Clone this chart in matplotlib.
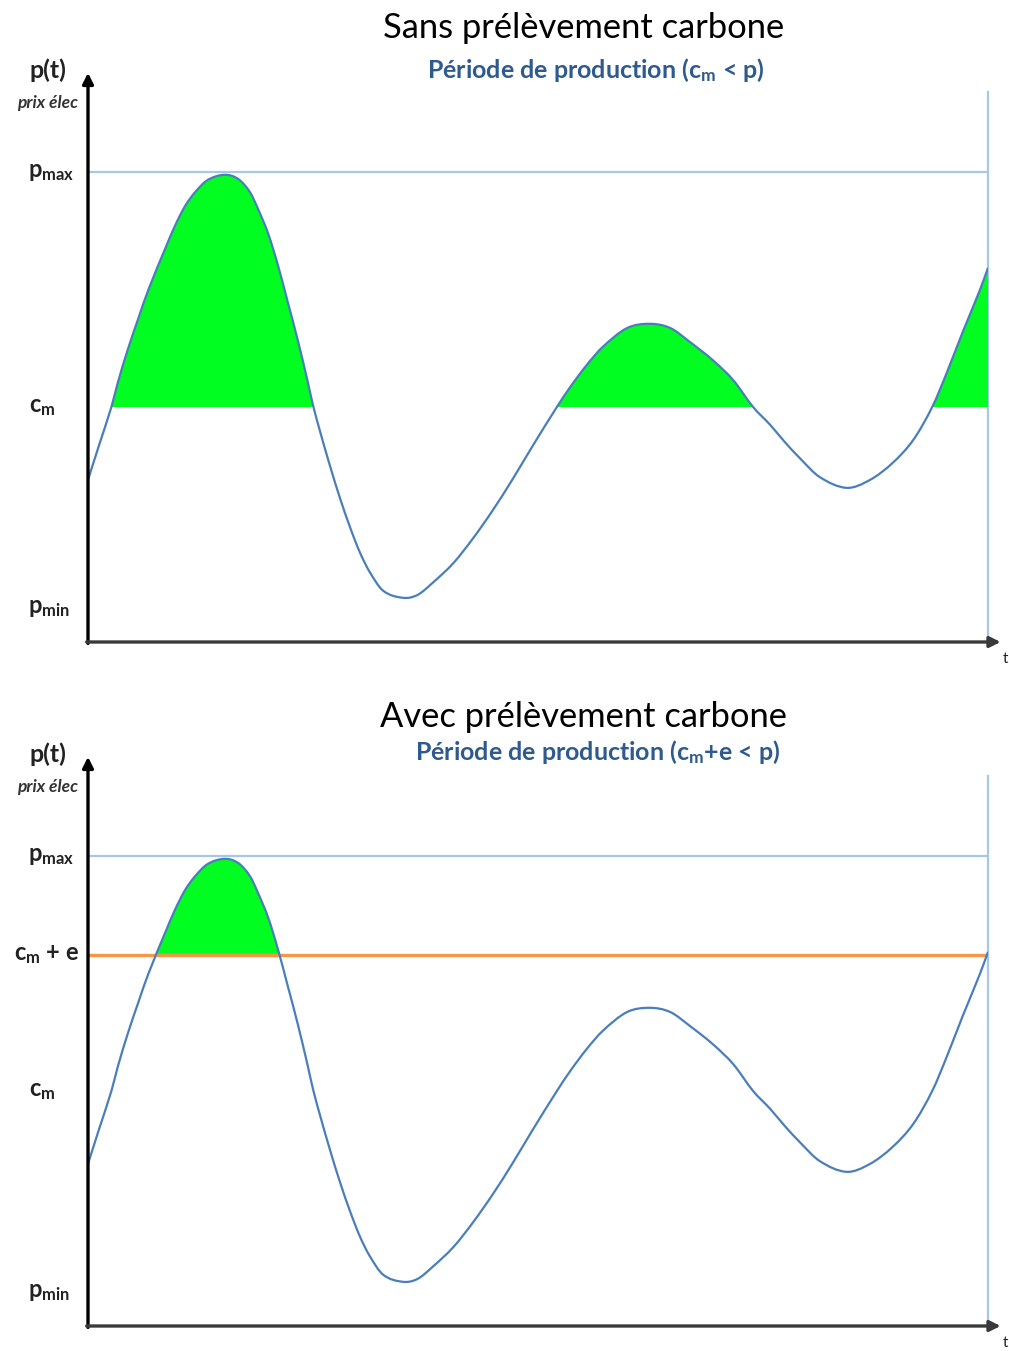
import matplotlib
matplotlib.use("Agg")
import matplotlib.pyplot as plt
from matplotlib.path import Path
from matplotlib.patches import PathPatch, Rectangle
import numpy as np

plt.rcParams['font.family'] = ['Lato', 'DejaVu Sans']
plt.rcParams['mathtext.fontset'] = 'custom'
plt.rcParams['mathtext.rm'] = 'Lato'
plt.rcParams['mathtext.it'] = 'Lato:italic'
plt.rcParams['mathtext.bf'] = 'Lato:bold'
plt.rcParams['mathtext.default'] = 'regular'

# ---- data ----
t = [0.0, 1.3, 2.6, 3.3, 4.4, 5.6, 6.7, 8.6, 9.7, 10.8, 11.9, 13.3, 15.2,
     16.7, 18.0, 18.9, 20.0, 21.1, 22.2, 23.3, 24.4, 25.0, 25.8, 26.9, 28.0,
     29.1, 30.2, 31.3, 32.8, 35.0, 36.6, 38.3, 40.6, 42.8, 45.0, 47.2, 49.4,
     52.1, 53.6, 55.4, 57.2, 59.9, 62.4, 64.7, 66.9, 69.4, 71.7, 73.9, 75.8,
     77.4, 79.1, 81.3, 84.3, 86.9, 89.4, 91.7, 93.8, 95.4, 97.2, 99.1, 100.0]
price = [34.5, 42.3, 50.0, 55.1, 62.1, 68.9, 74.9, 83.8, 88.7, 92.8, 95.7, 98.3,
         99.4, 98.5, 95.7, 92.1, 87.0, 80.2, 72.3, 64.3, 55.5, 50.4, 44.7, 37.4,
         30.6, 24.5, 19.1, 14.9, 10.9, 9.4, 10.0, 12.6, 16.8, 22.1, 28.1, 34.7,
         41.7, 50.0, 54.3, 58.9, 62.8, 66.8, 67.7, 66.8, 63.8, 60.0, 55.7, 50.0,
         46.2, 42.6, 39.1, 35.1, 32.8, 34.5, 38.1, 43.0, 50.0, 57.2, 66.0, 74.9,
         79.6]

p_max = 100.0
c_m = 50.0
e = 29.0
p_min_label = 7.4

titles = ["Sans prélèvement carbone", "Avec prélèvement carbone"]
subtitles = [r"Période de production (c$_{m}$ < p)",
             r"Période de production (c$_{m}$+e < p)"]

# ---- styling ----
W, H = 1009, 1351
fig = plt.figure(figsize=(W / 100, H / 100), dpi=100)

curve_c = '#4A7EBB'
light_c = '#A7C7E7'
green_c = '#00FF21'
orange_c = '#F79646'
sub_c = '#2E5A8E'
lab_c = '#222222'

px_p = 4.7    # pixels per price unit
x0 = 88
ytop_data = 120.6


def smooth_path(xs, ys):
    """Cubic Bezier path through the data points (finite-difference tangents)."""
    x = np.asarray(xs, float)
    y = np.asarray(ys, float)
    n = len(x)
    d = np.zeros(n)
    d[0] = (y[1] - y[0]) / (x[1] - x[0])
    d[-1] = (y[-1] - y[-2]) / (x[-1] - x[-2])
    d[1:-1] = (y[2:] - y[:-2]) / (x[2:] - x[:-2])
    verts = [(x[0], y[0])]
    codes = [Path.MOVETO]
    for i in range(n - 1):
        h = x[i + 1] - x[i]
        verts += [(x[i] + h / 3, y[i] + d[i] * h / 3),
                  (x[i + 1] - h / 3, y[i + 1] - d[i + 1] * h / 3),
                  (x[i + 1], y[i + 1])]
        codes += [Path.CURVE4] * 3
    return verts, codes


verts_c, codes_c = smooth_path(t, price)

for k, xaxis_y in enumerate([642, 1326]):
    top_px = xaxis_y - ytop_data * px_p
    ax = fig.add_axes([x0 / W, 1 - xaxis_y / H, 900 / W, (xaxis_y - top_px) / H])
    ax.set_xlim(0, 100)
    ax.set_ylim(0, ytop_data)
    ax.axis('off')

    thr = c_m if k == 0 else c_m + e

    # green area: below the curve, above the threshold
    area_verts = list(verts_c) + [(t[-1], 0.0), (t[0], 0.0), (t[0], price[0])]
    area_codes = list(codes_c) + [Path.LINETO, Path.LINETO, Path.CLOSEPOLY]
    area = PathPatch(Path(area_verts, area_codes), facecolor=green_c,
                     edgecolor='none', zorder=2)
    ax.add_patch(area)
    clip = Rectangle((0, thr), 100, ytop_data, transform=ax.transData,
                     facecolor='none', edgecolor='none')
    ax.add_patch(clip)
    area.set_clip_path(clip)

    # pmax line
    ax.plot([0, 100], [p_max, p_max], color=light_c, lw=1.6, zorder=1)
    # right vertical line
    ax.plot([100, 100], [0, 117.0], color=light_c, lw=1.6, zorder=1, clip_on=False)
    if k == 1:
        ax.plot([0, 100], [thr, thr], color=orange_c, lw=2.4, zorder=3)
    ax.add_patch(PathPatch(Path(verts_c, codes_c), facecolor='none',
                           edgecolor=curve_c, lw=1.6, zorder=4))

    # axes arrows
    ax.annotate('', xy=(0, ytop_data + 0.5), xytext=(0, -0.3),
                arrowprops=dict(arrowstyle='-|>', lw=2.4, color='black',
                                mutation_scale=16, shrinkA=0, shrinkB=0),
                annotation_clip=False, zorder=5)
    ax.annotate('', xy=(101.4, 0), xytext=(-0.15, 0),
                arrowprops=dict(arrowstyle='-|>', lw=2.4, color='#3A3A3A',
                                mutation_scale=16, shrinkA=0, shrinkB=0),
                annotation_clip=False, zorder=5)

    # labels
    ax.text(-4.45, 121.7, 'p(t)', ha='center', va='center', fontsize=18,
            fontweight='bold', color=lab_c, clip_on=False)
    ax.text(-4.45, 114.6, 'prix élec', ha='center', va='center', fontsize=12.5,
            style='italic', fontweight='bold', color='#333333', clip_on=False)
    ax.text(-4.1, p_max, r'p$_{max}$', ha='center', va='center', fontsize=17,
            fontweight='bold', color=lab_c, clip_on=False)
    ax.text(-5.1, c_m, r'c$_{m}$', ha='center', va='center', fontsize=17,
            fontweight='bold', color=lab_c, clip_on=False)
    ax.text(-4.3, p_min_label, r'p$_{min}$', ha='center', va='center', fontsize=17,
            fontweight='bold', color=lab_c, clip_on=False)
    if k == 1:
        ax.text(-4.6, thr, r'c$_{m}$ + e', ha='center', va='center', fontsize=17,
                fontweight='bold', color=lab_c, clip_on=False)
    ax.text(101.9, -3.6, 't', ha='center', va='center', fontsize=11,
            color=lab_c, clip_on=False)

    ax.text(55.1, 130.6 if k == 0 else 129.6, titles[k], ha='center', va='center',
            fontsize=24.8, color='black', clip_on=False)
    ax.text(56.4 if k == 0 else 56.6, 121.7 if k == 0 else 122.1, subtitles[k],
            ha='center', va='center', fontsize=18, fontweight='bold', color=sub_c,
            clip_on=False)

fig.savefig('out.png', dpi=100, facecolor='white')
